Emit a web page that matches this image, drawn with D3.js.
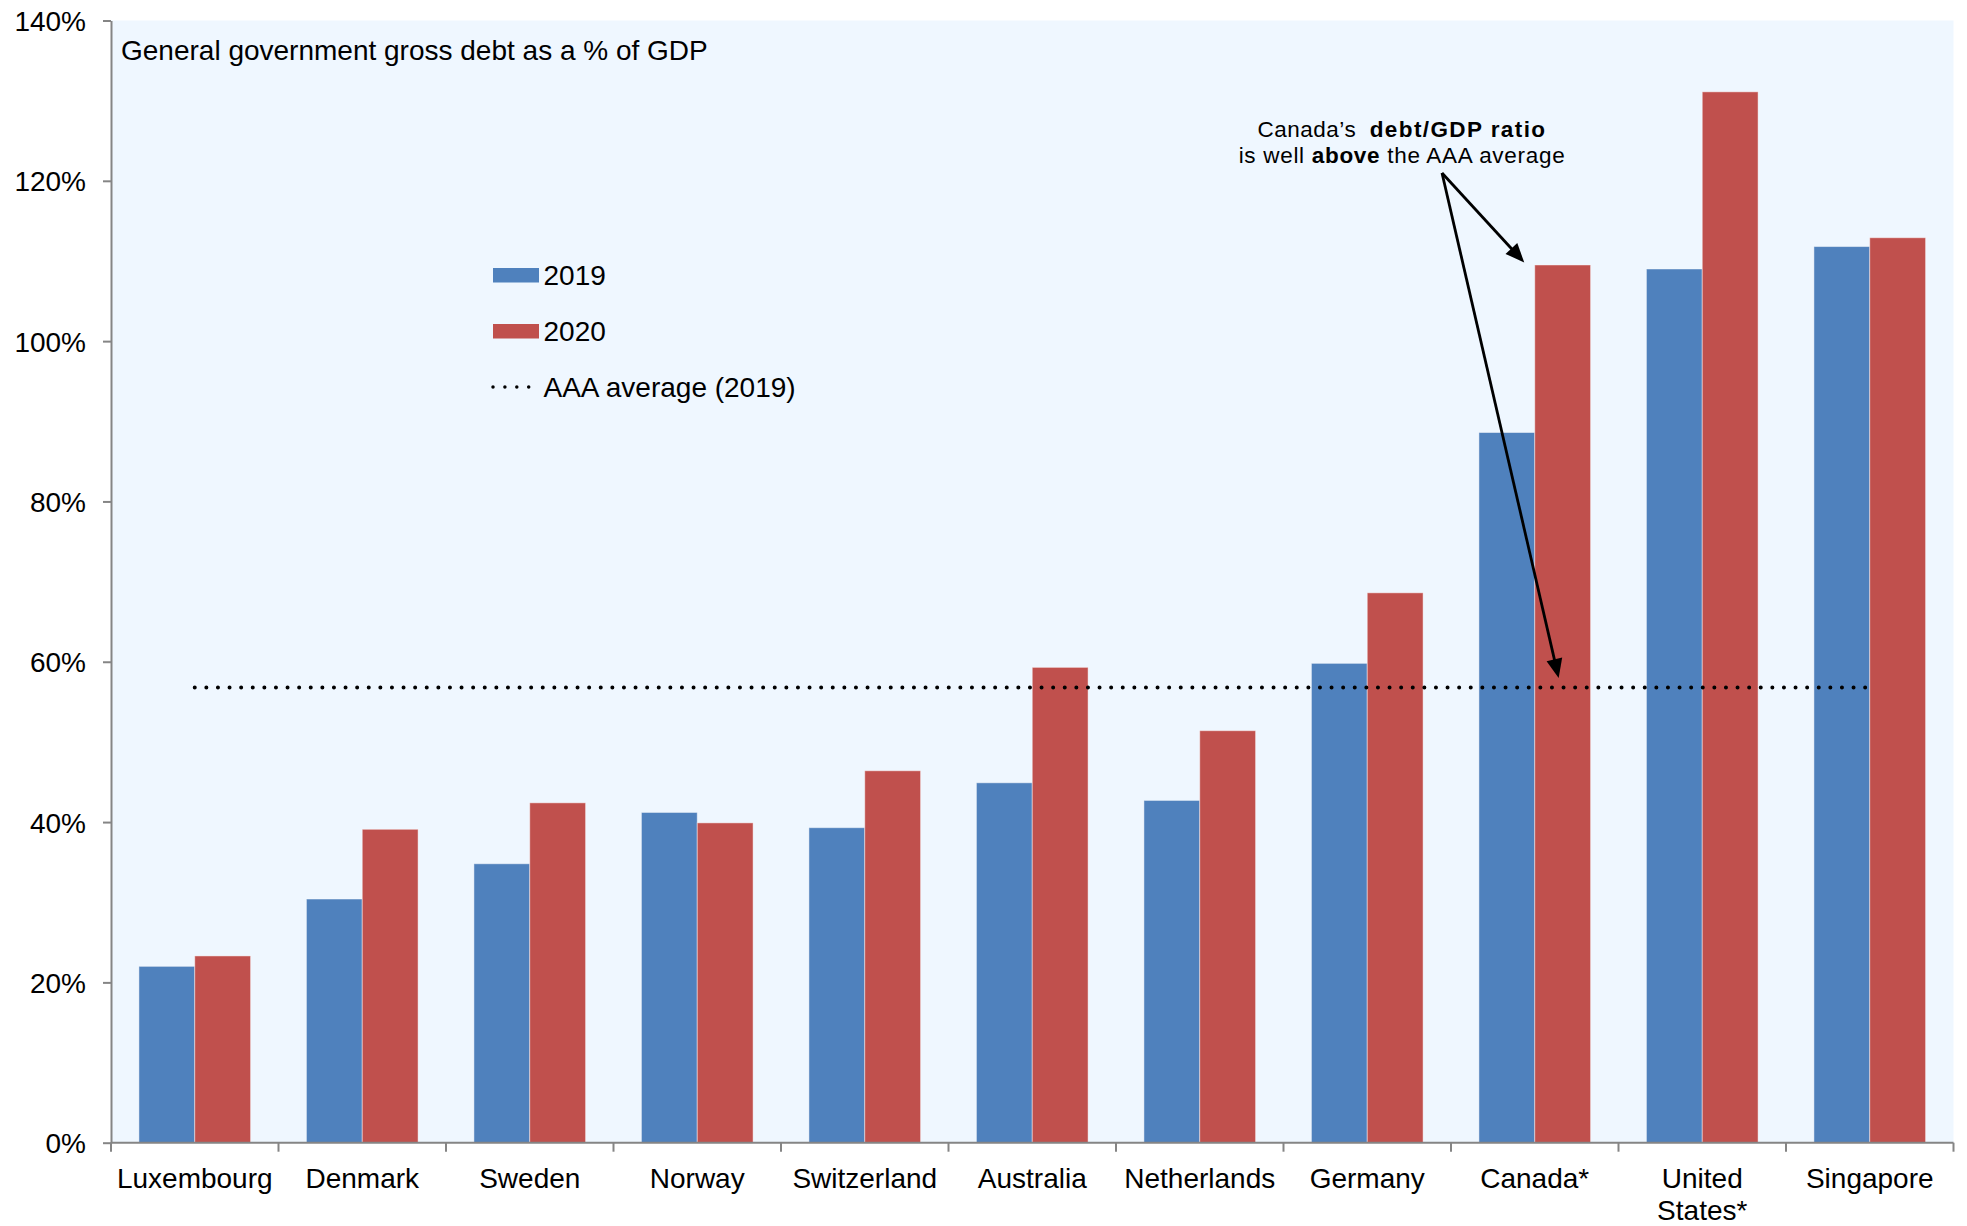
<!DOCTYPE html>
<html>
<head>
<meta charset="utf-8">
<script src="https://cdn.jsdelivr.net/npm/d3@7"></script>
<style>
  body { margin: 0; background: #ffffff; }
  svg { display: block; }
  text { font-family: "Liberation Sans", Arial, Helvetica, sans-serif; fill: #000; }
</style>
</head>
<body>
<svg id="chart" width="1967" height="1226"></svg>
<script>
// ---- data ----
const countries = ["Luxembourg", "Denmark", "Sweden", "Norway", "Switzerland", "Australia",
                   "Netherlands", "Germany", "Canada*", "United States*", "Singapore"];
const debt2019 = [22.0, 30.4, 34.8, 41.2, 39.3, 44.9, 42.7, 59.8, 88.6, 109.0, 111.8];
const debt2020 = [23.3, 39.1, 42.4, 39.9, 46.4, 59.3, 51.4, 68.6, 109.5, 131.1, 112.9];
const seriesNames = ["2019", "2020"];
const aaaAverage2019 = 56.8;
const yTickValues = [0, 20, 40, 60, 80, 100, 120, 140];
const chartTitle = "General government gross debt as a % of GDP";
const averageLabel = "AAA average (2019)";
const highlightCountry = "Canada*";

// ---- layout ----
const plot = { left: 111, right: 1953.5, top: 20.5, bottom: 1142.7 };
const colors = { "2019": "#4F81BD", "2020": "#C0504D" };
const axisColor = "#858585";
const bg = "#EFF7FF";
const fontSize = 28;

const svg = d3.select("#chart");

const rows = countries.map((c, i) => ({ country: c, "2019": debt2019[i], "2020": debt2020[i] }));

const x = d3.scaleBand().domain(countries).range([plot.left, plot.right]).padding(0);
const bw = x.bandwidth();
const xSeries = d3.scaleBand().domain(seriesNames).range([bw / 6, bw * 5 / 6]).padding(0);
const y = d3.scaleLinear().domain([0, 140]).range([plot.bottom, plot.top]);

// plot background
svg.append("rect")
  .attr("x", plot.left).attr("y", plot.top)
  .attr("width", plot.right - plot.left).attr("height", plot.bottom - plot.top)
  .attr("fill", bg);

// bars
const groups = svg.append("g").selectAll("g")
  .data(rows).join("g")
  .attr("transform", d => `translate(${x(d.country)},0)`);

groups.selectAll("rect")
  .data(d => seriesNames.map(s => ({ key: s, value: d[s] })))
  .join("rect")
  .attr("x", d => xSeries(d.key))
  .attr("width", xSeries.bandwidth())
  .attr("y", d => y(d.value))
  .attr("height", d => y(0) - y(d.value))
  .attr("fill", d => colors[d.key])
  .attr("stroke", "rgba(255,255,255,0.45)")
  .attr("stroke-width", 1);

// AAA average dotted line, from first to last category centre
svg.append("line")
  .attr("x1", x(countries[0]) + bw / 2)
  .attr("x2", x(countries[countries.length - 1]) + bw / 2)
  .attr("y1", y(aaaAverage2019)).attr("y2", y(aaaAverage2019))
  .attr("stroke", "#000").attr("stroke-width", 4)
  .attr("stroke-linecap", "round")
  .attr("stroke-dasharray", "0 11.6");

// y axis
const yAxis = d3.axisLeft(y)
  .tickValues(yTickValues)
  .tickFormat(d => d + "%")
  .tickSizeInner(8).tickSizeOuter(0).tickPadding(17);
const gy = svg.append("g").attr("transform", `translate(${plot.left},0)`).call(yAxis);
gy.select(".domain").attr("stroke", axisColor).attr("stroke-width", 2);
gy.selectAll(".tick line").attr("stroke", axisColor).attr("stroke-width", 2);
gy.selectAll(".tick text")
  .attr("font-size", fontSize).attr("fill", "#000")
  .attr("font-family", "Liberation Sans, Arial, sans-serif")
  .attr("dy", "0.36em");

// x axis: baseline, boundary ticks and centred category labels
const gx = svg.append("g").attr("transform", `translate(0,${plot.bottom})`);
gx.append("line")
  .attr("x1", plot.left).attr("x2", plot.right)
  .attr("stroke", axisColor).attr("stroke-width", 2);
const boundaries = countries.map(c => x(c)).concat([x.range()[1]]);
gx.selectAll("line.bound").data(boundaries).join("line")
  .attr("class", "bound")
  .attr("x1", d => d).attr("x2", d => d)
  .attr("y1", 0).attr("y2", 9)
  .attr("stroke", axisColor).attr("stroke-width", 2);

const labels = gx.selectAll("text.cat").data(countries).join("text")
  .attr("class", "cat")
  .attr("x", d => x(d) + bw / 2)
  .attr("text-anchor", "middle")
  .attr("font-size", fontSize);
labels.each(function (d) {
  const parts = d.split(" ");
  const t = d3.select(this);
  parts.forEach((p, i) => {
    t.append("tspan")
      .attr("x", x(d) + bw / 2)
      .attr("y", 45.5 + i * 31.5)
      .text(p);
  });
});

// title
svg.append("text")
  .attr("x", 121).attr("y", 60)
  .attr("font-size", fontSize)
  .text(chartTitle);

// legend
const legend = svg.append("g").attr("transform", "translate(493,0)");
seriesNames.forEach((s, i) => {
  legend.append("rect")
    .attr("x", 0).attr("y", 268 + i * 56)
    .attr("width", 46).attr("height", 14.5)
    .attr("fill", colors[s]);
  legend.append("text")
    .attr("x", 50.5).attr("y", 285 + i * 56)
    .attr("font-size", fontSize)
    .text(s);
});
legend.append("line")
  .attr("x1", 0).attr("x2", 36)
  .attr("y1", 387).attr("y2", 387)
  .attr("stroke", "#000").attr("stroke-width", 3.5)
  .attr("stroke-linecap", "round")
  .attr("stroke-dasharray", "0 11.9");
legend.append("text")
  .attr("x", 50.5).attr("y", 397)
  .attr("font-size", fontSize)
  .text(averageLabel);

// annotation for Canada
const note = svg.append("g");
const noteX = 1402;
const line1 = note.append("text")
  .attr("x", noteX).attr("y", 137)
  .attr("text-anchor", "middle").attr("font-size", 22.5)
  .attr("letter-spacing", 0.5);
line1.append("tspan").text("Canada\u2019s\u00a0\u00a0");
line1.append("tspan").attr("font-weight", "bold").attr("letter-spacing", 1.4).text("debt/GDP ratio");
const line2 = note.append("text")
  .attr("x", noteX).attr("y", 163)
  .attr("text-anchor", "middle").attr("font-size", 22.5)
  .attr("letter-spacing", 0.7);
line2.append("tspan").text("is well ");
line2.append("tspan").attr("font-weight", "bold").text("above");
line2.append("tspan").text(" the AAA average");

const origin = [1442, 173];
const ci = countries.indexOf(highlightCountry);
const redLeft = x(highlightCountry) + xSeries("2020");
const redMid = redLeft + xSeries.bandwidth() / 2;
const tips = [
  [redLeft - 10.5, y(debt2020[ci]) - 2.5],
  [redMid - 4, y(aaaAverage2019) - 9.5]
];

function arrow(from, to) {
  const dx = to[0] - from[0], dy = to[1] - from[1];
  const len = Math.hypot(dx, dy);
  const ux = dx / len, uy = dy / len;
  const headL = 19, headW = 8;
  const bx = to[0] - ux * headL, by = to[1] - uy * headL;
  note.append("line")
    .attr("x1", from[0]).attr("y1", from[1])
    .attr("x2", bx + ux * 2).attr("y2", by + uy * 2)
    .attr("stroke", "#000").attr("stroke-width", 2.8);
  note.append("path")
    .attr("d", `M${to[0]},${to[1]} L${bx - uy * headW},${by + ux * headW} L${bx + uy * headW},${by - ux * headW} Z`)
    .attr("fill", "#000");
}
tips.forEach(t => arrow(origin, t));
</script>
</body>
</html>
